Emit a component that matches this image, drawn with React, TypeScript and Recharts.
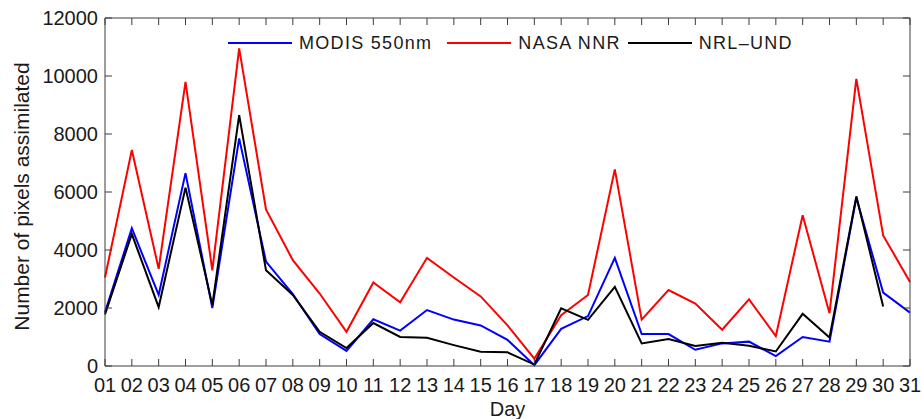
import React from 'react';
import { LineChart, Line, XAxis, YAxis, Legend } from 'recharts';

const days = [1, 2, 3, 4, 5, 6, 7, 8, 9, 10, 11, 12, 13, 14, 15, 16, 17, 18, 19, 20, 21, 22, 23, 24, 25, 26, 27, 28, 29, 30, 31];
const modis = [1850, 4750, 2450, 6650, 2000, 7850, 3600, 2480, 1100, 520, 1610, 1220, 1930, 1600, 1400, 900, 30, 1280, 1720, 3730, 1100, 1100, 560, 780, 840, 340, 1000, 840, 5800, 2530, 1840];
const nasa = [3050, 7450, 3350, 9800, 3300, 10950, 5400, 3650, 2500, 1180, 2880, 2200, 3730, 3050, 2400, 1400, 250, 1750, 2450, 6780, 1600, 2620, 2150, 1250, 2300, 1030, 5200, 1820, 9900, 4500, 2900];
const nrl: (number | null)[] = [1780, 4550, 2030, 6150, 2100, 8650, 3300, 2450, 1180, 620, 1480, 1000, 970, 720, 490, 470, 50, 1990, 1590, 2730, 780, 930, 690, 800, 700, 500, 1800, 980, 5850, 2050, null];
const yTicks = [0, 2000, 4000, 6000, 8000, 10000, 12000];
const seriesNames = ['MODIS 550nm', 'NASA NNR', 'NRL\u2013UND'];
const xLabel = 'Day';
const yLabel = 'Number of pixels assimilated';

const data = days.map((d, i) => ({ day: d, modis: modis[i], nasa: nasa[i], nrl: nrl[i] }));

const FONT = "'Liberation Sans', Arial, Helvetica, sans-serif";
const AXIS = '#3c3c3c';
const TEXT = '#1a1a1a';
const TL = 7;

const pad = (v: number) => String(v).padStart(2, '0');

const BottomTick = (p: any) => {
  const { x, y, payload } = p;
  return (
    <g>
      <line x1={x} y1={y} x2={x} y2={y - TL} stroke={AXIS} strokeWidth={1} />
      <text x={x} y={y + 26} textAnchor="middle" fontSize={20} fontFamily={FONT} fill={TEXT}>
        {pad(payload.value)}
      </text>
    </g>
  );
};

const TopTick = (p: any) => {
  const { x, y } = p;
  return <line x1={x} y1={y} x2={x} y2={y + TL} stroke={AXIS} strokeWidth={1} />;
};

const LeftTick = (p: any) => {
  const { x, y, payload } = p;
  return (
    <g>
      <line x1={x} y1={y} x2={x + TL} y2={y} stroke={AXIS} strokeWidth={1} />
      <text x={x - 7} y={y + 7} textAnchor="end" fontSize={20} fontFamily={FONT} fill={TEXT}>
        {payload.value}
      </text>
    </g>
  );
};

const RightTick = (p: any) => {
  const { x, y } = p;
  return <line x1={x} y1={y} x2={x - TL} y2={y} stroke={AXIS} strokeWidth={1} />;
};

const YLabel = (props: any) => {
  const vb = props.viewBox || { x: 0, y: 18, width: 105, height: 348 };
  const cx = vb.x + 28.5;
  const cy = vb.y + vb.height / 2 + 4.5;
  return (
    <text transform={`translate(${cx}, ${cy}) rotate(-90)`} textAnchor="middle" fontSize={21} fontFamily={FONT} fill={TEXT}>
      {yLabel}
    </text>
  );
};

const renderLegend = (props: any) => {
  const { payload } = props;
  return (
    <div style={{ display: 'flex', alignItems: 'center', fontFamily: FONT, fontSize: 18, letterSpacing: '1.3px', color: TEXT, whiteSpace: 'nowrap' }}>
      {(payload || []).map((e: any, i: number) => (
        <div key={i} style={{ display: 'flex', alignItems: 'center', marginRight: i === 0 ? 15 : 7 }}>
          <div style={{ width: 64, height: 2, background: e.color, marginRight: 7 }} />
          <span style={{ lineHeight: '24px' }}>{e.value}</span>
        </div>
      ))}
    </div>
  );
};

export default function App() {
  return (
    <div style={{ position: 'absolute', left: 0, top: 0, width: 922, height: 419, background: '#fff' }}>
      <LineChart width={922} height={419} data={data} margin={{ top: 17, right: 11, bottom: 0, left: 0 }}>
        <XAxis
          dataKey="day"
          type="number"
          domain={[1, 31]}
          ticks={days}
          interval={0}
          height={53}
          tickSize={0}
          tickMargin={0}
          tickLine={false}
          axisLine={{ stroke: AXIS, strokeWidth: 1 }}
          tick={BottomTick}
          label={{ value: xLabel, position: 'insideBottom', offset: 3, fontSize: 20, fontFamily: FONT, fill: TEXT }}
        />
        <XAxis
          xAxisId="top"
          orientation="top"
          dataKey="day"
          type="number"
          domain={[1, 31]}
          ticks={days}
          interval={0}
          height={1}
          tickSize={0}
          tickMargin={0}
          tickLine={false}
          axisLine={{ stroke: AXIS, strokeWidth: 1 }}
          tick={TopTick}
        />
        <YAxis
          type="number"
          domain={[0, 12000]}
          ticks={yTicks}
          interval={0}
          width={105}
          tickSize={0}
          tickMargin={0}
          tickLine={false}
          axisLine={{ stroke: AXIS, strokeWidth: 1 }}
          tick={LeftTick}
          label={YLabel}
        />
        <YAxis
          yAxisId="right"
          orientation="right"
          type="number"
          domain={[0, 12000]}
          ticks={yTicks}
          interval={0}
          width={1}
          tickSize={0}
          tickMargin={0}
          tickLine={false}
          axisLine={{ stroke: AXIS, strokeWidth: 1 }}
          tick={RightTick}
        />
        <Legend
          layout="horizontal"
          verticalAlign="middle"
          align="center"
          content={renderLegend}
          wrapperStyle={{ left: 228, top: 31, width: 'auto', height: 'auto' }}
        />
        <Line type="linear" dataKey="modis" xAxisId="top" name={seriesNames[0]} stroke="#0000ff" strokeWidth={2} dot={false} isAnimationActive={false} />
        <Line type="linear" dataKey="nasa" yAxisId="right" name={seriesNames[1]} stroke="#ff0000" strokeWidth={2} dot={false} isAnimationActive={false} />
        <Line type="linear" dataKey="nrl" name={seriesNames[2]} stroke="#000000" strokeWidth={2} dot={false} isAnimationActive={false} />
      </LineChart>
    </div>
  );
}
